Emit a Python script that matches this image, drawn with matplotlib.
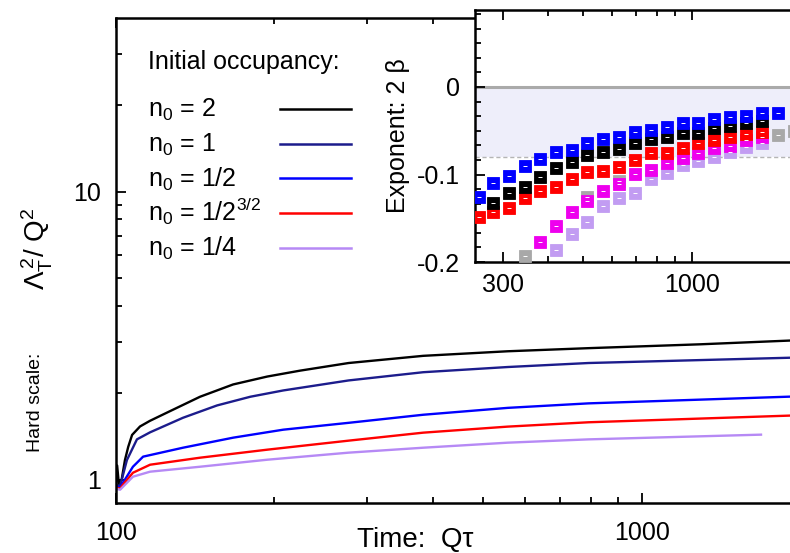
import matplotlib
matplotlib.use("Agg")
import matplotlib.pyplot as plt
from matplotlib.lines import Line2D
from matplotlib.ticker import FixedLocator, FixedFormatter, NullFormatter, MultipleLocator

plt.rcParams['font.family'] = ['Liberation Sans', 'DejaVu Sans']
plt.rcParams['mathtext.fontset'] = 'custom'
plt.rcParams['mathtext.rm'] = 'Liberation Sans'
plt.rcParams['mathtext.it'] = 'Liberation Sans:italic'
plt.rcParams['mathtext.default'] = 'regular'

# hard scale vs time, one curve per initial occupancy
t_n2 = [100, 100.5, 101.3, 102.5, 104, 105.5, 107.3, 111.1, 116, 125.1, 144.5, 167, 194, 224, 277, 384, 556, 792, 1294, 1920]
v_n2 = [0.96, 1.12, 0.96, 1.0, 1.17, 1.30, 1.43, 1.53, 1.60, 1.71, 1.94, 2.14, 2.28, 2.39, 2.54, 2.69, 2.79, 2.86, 2.95, 3.04]
t_n1 = [100, 101.8, 104.9, 109.6, 116.1, 134.1, 155.7, 180.1, 208, 277, 384, 556, 792, 1920]
v_n1 = [0.96, 0.95, 1.17, 1.38, 1.46, 1.64, 1.81, 1.94, 2.04, 2.21, 2.36, 2.46, 2.54, 2.65]
t_nh = [100, 101.8, 103.1, 107.7, 112.6, 134.1, 167.1, 208, 277, 384, 556, 792, 1920]
v_nh = [0.95, 0.94, 0.976, 1.109, 1.202, 1.291, 1.399, 1.491, 1.575, 1.68, 1.775, 1.84, 1.942]
t_n32 = [100, 101.8, 103.1, 107.7, 116.1, 144.5, 194, 277, 384, 556, 792, 1920]
v_n32 = [0.94, 0.93, 0.961, 1.057, 1.127, 1.192, 1.271, 1.366, 1.456, 1.528, 1.582, 1.669]
t_nq = [100, 101.8, 107.7, 116.1, 144.5, 194, 277, 384, 556, 792, 1686]
v_nq = [0.93, 0.923, 1.024, 1.066, 1.109, 1.173, 1.241, 1.291, 1.344, 1.38, 1.433]

labels = ["n$_0$ = 2", "n$_0$ = 1", "n$_0$ = 1/2", "n$_0$ = 1/2$^{3/2}$", "n$_0$ = 1/4"]
colors = ["black", "#1c1c8c", "#0000ff", "#ff0000", "#b689f5"]

# inset: fitted exponent 2*beta vs time
t_fit = [256, 281, 310, 344, 379, 420, 465, 512, 568, 629, 697, 773, 852, 944, 1039, 1152, 1277, 1415, 1568, 1738]
b_blue = [-0.126, -0.110, -0.102, -0.090, -0.082, -0.074, -0.072, -0.064, -0.059, -0.057,
          -0.051, -0.049, -0.046, -0.041, -0.041, -0.037, -0.034, -0.033, -0.030, -0.030]
b_black = [-0.133, -0.121, -0.114, -0.103, -0.093, -0.086, -0.078, -0.074, -0.071,
           -0.064, -0.059, -0.057, -0.053, -0.053, -0.047, -0.045, -0.041, -0.039]
b_red = [-0.149, -0.143, -0.138, -0.127, -0.119, -0.114, -0.105, -0.097, -0.096, -0.091,
         -0.083, -0.075, -0.075, -0.070, -0.064, -0.061, -0.057, -0.054, -0.051]
b_mag = [-0.177, -0.159, -0.143, -0.130, -0.119, -0.111, -0.099, -0.095, -0.087,
         -0.081, -0.075, -0.070, -0.067, -0.061, -0.057]
b_lav = [-0.186, -0.168, -0.154, -0.136, -0.127, -0.121, -0.105, -0.098, -0.089,
         -0.085, -0.080, -0.074, -0.069, -0.064]
t_gray = [344, 512, 629, 1738, 1925]
b_gray = [-0.193, -0.126, -0.107, -0.055, -0.050]

W, H = 790, 553
fig = plt.figure(figsize=(W / 100, H / 100), dpi=100)

ax = fig.add_axes([116 / W, 1 - 503 / H, 684 / W, 485 / H])
curves = [(t_n2, v_n2), (t_n1, v_n1), (t_nh, v_nh), (t_n32, v_n32), (t_nq, v_nq)]
for (t, v), c in zip(curves, colors):
    ax.plot(t, v, color=c, lw=1.7, solid_joinstyle='round')
ax.set_xscale('log')
ax.set_yscale('log')
ax.set_xlim(100, 2000)
ax.set_ylim(0.83, 40)
ax.xaxis.set_major_locator(FixedLocator([100, 1000]))
ax.xaxis.set_major_formatter(FixedFormatter(["100", "1000"]))
ax.xaxis.set_minor_locator(FixedLocator([200, 300, 400, 500, 600, 700, 800, 900]))
ax.xaxis.set_minor_formatter(NullFormatter())
ax.yaxis.set_major_locator(FixedLocator([1, 10]))
ax.yaxis.set_major_formatter(FixedFormatter(["1", "10"]))
ax.yaxis.set_minor_locator(FixedLocator([2, 3, 4, 5, 6, 7, 8, 9, 20, 30]))
ax.yaxis.set_minor_formatter(NullFormatter())
ax.tick_params(which='both', direction='in', top=True, right=True, labelsize=18, width=1.3)
ax.tick_params(which='major', length=7)
ax.tick_params(which='minor', length=4)
ax.tick_params(axis='x', pad=13)
ax.tick_params(axis='y', pad=11)
for s in ax.spines.values():
    s.set_linewidth(1.8)
ax.set_xlabel("Time:  Q\u03c4", fontsize=20, va='center')
ax.xaxis.set_label_coords(0.438, -0.076)

# y label in two pieces: the words and the larger symbol part
fig.text(35 / W, 1 - 402 / H, "Hard scale:", fontsize=14, rotation=90, ha='center', va='center')
fig.text(37 / W, 1 - 249 / H, "$\u039b_T^{\\,2}$/ Q$^2$", fontsize=20, rotation=90,
         ha='center', va='center')

# legend, drawn by hand so the title sits apart from the entries
fig.text(148 / W, 1 - 69 / H, "Initial occupancy:", fontsize=18, va='baseline')
for i, (lab, c) in enumerate(zip(labels, colors)):
    y = 109 + 34.7 * i
    fig.text(148 / W, 1 - (y + 8) / H, lab, fontsize=18, va='baseline')
    fig.add_artist(Line2D([280 / W, 351 / W], [1 - y / H] * 2, color=c, lw=1.8,
                          transform=fig.transFigure))

# inset
ins = fig.add_axes([475 / W, 1 - 262 / H, 325 / W, 252 / H])
ins.set_facecolor('white')
ins.axhspan(-0.08, 0, color='#eeeefa', lw=0, zorder=0)
ins.axhline(0, color='#aaaaaa', lw=2.2, zorder=1)
ins.axhline(-0.08, color='#b5b5b5', lw=1, ls=(0, (3, 2)), zorder=1)
series = [
    (t_gray, b_gray, '#a8a8a8'),
    (t_fit[5:19], b_lav, '#c29cf2'),
    (t_fit[4:19], b_mag, '#ee00ee'),
    (t_fit[0:19], b_red, '#ff0000'),
    (t_fit[1:19], b_black, '#000000'),
    (t_fit, b_blue, '#0000ff'),
]
for t, b, c in series:
    ins.plot(t, b, ls='none', marker='s', ms=8.2, mfc=c, mec=c, mew=0.6, zorder=3)
    ins.plot(t, b, ls='none', marker='_', ms=2.5, mec='white', mew=0.7, zorder=4)
ins.set_xscale('log')
ins.set_xlim(250, 2000)
ins.set_ylim(-0.2, 0.088)
ins.xaxis.set_major_locator(FixedLocator([300, 1000]))
ins.xaxis.set_major_formatter(FixedFormatter(["300", "1000"]))
ins.xaxis.set_minor_locator(FixedLocator([400, 500, 600, 700, 800, 900, 2000]))
ins.xaxis.set_minor_formatter(NullFormatter())
ins.yaxis.set_major_locator(FixedLocator([0, -0.1, -0.2]))
ins.yaxis.set_major_formatter(FixedFormatter(["0", "-0.1", "-0.2"]))
ins.yaxis.set_minor_locator(MultipleLocator(0.1 / 6))
ins.tick_params(which='both', direction='in', top=True, right=True, labelsize=18, width=1.3)
ins.tick_params(which='major', length=7)
ins.tick_params(which='minor', length=4)
ins.tick_params(axis='x', pad=8)
ins.tick_params(axis='y', pad=11)
for s in ins.spines.values():
    s.set_linewidth(1.8)
ins.set_ylabel("Exponent: 2 \u03b2", fontsize=18, va='center')
ins.yaxis.set_label_coords(-0.237, 0.5)

fig.savefig("out.png", dpi=100)
